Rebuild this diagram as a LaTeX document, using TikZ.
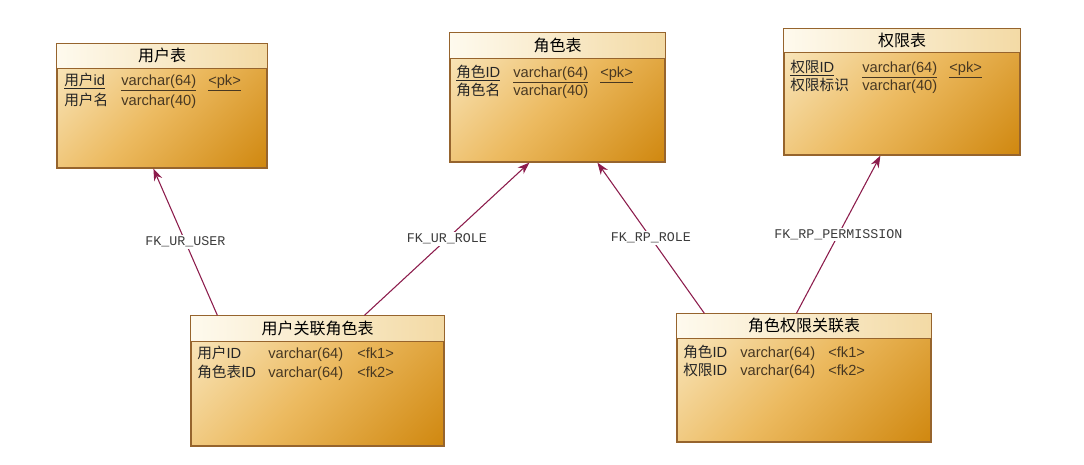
\documentclass[tikz,border=0pt]{standalone}
\usepackage{fontspec}
\setmainfont{Liberation Sans}
\newfontfamily\cjk{Noto Sans CJK SC}
\newfontfamily\monof{Liberation Mono}
\usetikzlibrary{calc,arrows.meta}
\definecolor{fkc}{RGB}{140,28,76}
\definecolor{brd}{RGB}{150,100,45}
\definecolor{bodylight}{RGB}{250,234,196}
\definecolor{bodymid}{RGB}{236,186,96}
\definecolor{bodydark}{RGB}{208,136,16}
\definecolor{hdrlight}{RGB}{254,250,238}
\definecolor{hdrdark}{RGB}{243,218,165}
\definecolor{typec}{RGB}{72,56,34}
\definecolor{lblc}{RGB}{60,60,60}
\pgfdeclareverticalshading{bodyshade}{100bp}{color(0bp)=(bodydark); color(15bp)=(bodydark); color(50bp)=(bodymid); color(85bp)=(bodylight); color(100bp)=(bodylight)}
\pgfdeclarehorizontalshading{hdrshade}{100bp}{color(0bp)=(hdrlight); color(25bp)=(hdrlight); color(75bp)=(hdrdark); color(100bp)=(hdrdark)}
\newcommand\tablebox[7]{%
  \node[tbl, minimum width=#4*0.75pt, minimum height=#5*0.75pt] (#1) at (#2,#3) {};
  \path[hdr] (#1.north west) rectangle ($(#1.north east)+(0,#6)$);
  \node[ttl] (#1-t) at ($(#1.north)+(0,#6/2)$) {#7};
}
\begin{document}
\begin{tikzpicture}[x=0.75pt,y=-0.75pt,
  tbl/.style={rectangle, draw=brd, line width=0.9pt, inner sep=0pt,
    shading=bodyshade, shading angle=45},
  hdr/.style={draw=brd, line width=0.9pt, shading=hdrshade},
  ttl/.style={inner sep=0pt, font=\cjk\fontsize{12}{14}\selectfont, text=black},
  cell/.style={anchor=base west, inner sep=0pt, font=\fontsize{11}{13}\selectfont, text=black!85},
  tcell/.style={cell, text=typec},
  fk/.style={draw=fkc, line width=0.8pt, -{Stealth[length=9pt,width=6.5pt]}},
  lbl/.style={fill=white, inner sep=1pt, text=lblc, font=\monof\fontsize{10}{12}\selectfont, pos=0.5}
]
\useasboundingbox[fill=white] (0,0) rectangle (1084,464);

% tables
\tablebox{u}{162}{106}{210}{124}{25}{用户表}
\tablebox{r}{557.5}{97.5}{215}{129}{26}{角色表}
\tablebox{p}{902}{92}{236}{126}{24}{权限表}
\tablebox{ur}{317.5}{381}{253}{130}{26}{用户关联角色表}
\tablebox{rp}{804}{378}{254}{128}{25}{角色权限关联表}

% rows: 用户表
\node[cell] (u-1n) at (64,85) {\underline{{\cjk 用户}id}};
\node[tcell] (u-1t) at (121,85) {\underline{varchar(64)}};
\node[tcell] (u-1k) at (208,85) {\underline{<pk>}};
\node[cell] (u-2n) at (64,105) {{\cjk 用户名}};
\node[tcell] (u-2t) at (121,105) {varchar(40)};

% rows: 角色表
\node[cell] (r-1n) at (456,77) {\underline{{\cjk 角色}ID}};
\node[tcell] (r-1t) at (513,77) {\underline{varchar(64)}};
\node[tcell] (r-1k) at (600,77) {\underline{<pk>}};
\node[cell] (r-2n) at (456,95) {{\cjk 角色名}};
\node[tcell] (r-2t) at (513,95) {varchar(40)};

% rows: 权限表
\node[cell] (p-1n) at (790,72) {\underline{{\cjk 权限}ID}};
\node[tcell] (p-1t) at (862,72) {\underline{varchar(64)}};
\node[tcell] (p-1k) at (949,72) {\underline{<pk>}};
\node[cell] (p-2n) at (790,90) {{\cjk 权限标识}};
\node[tcell] (p-2t) at (862,90) {varchar(40)};

% rows: 用户关联角色表
\node[cell] (ur-1n) at (197,358) {{\cjk 用户}ID};
\node[tcell] (ur-1t) at (268,358) {varchar(64)};
\node[tcell] (ur-1k) at (357,358) {<fk1>};
\node[cell] (ur-2n) at (197,377) {{\cjk 角色表}ID};
\node[tcell] (ur-2t) at (268,377) {varchar(64)};
\node[tcell] (ur-2k) at (357,377) {<fk2>};

% rows: 角色权限关联表
\node[cell] (rp-1n) at (683,357) {{\cjk 角色}ID};
\node[tcell] (rp-1t) at (740,357) {varchar(64)};
\node[tcell] (rp-1k) at (828,357) {<fk1>};
\node[cell] (rp-2n) at (683,375) {{\cjk 权限}ID};
\node[tcell] (rp-2t) at (740,375) {varchar(64)};
\node[tcell] (rp-2k) at (828,375) {<fk2>};

% connectors
\draw[fk] ($(ur.north west)+(27,0)$) -- node[lbl] (l1) {FK\_UR\_USER} ($(u.south west)+(97,0)$);
\draw[fk] ($(ur.north west)+(174,0)$) -- node[lbl] (l2) {FK\_UR\_ROLE} ($(r.south west)+(80,0)$);
\draw[fk] ($(rp.north west)+(28,0)$) -- node[lbl] (l3) {FK\_RP\_ROLE} ($(r.south west)+(148,0)$);
\draw[fk] ($(rp.north west)+(120,0)$) -- node[lbl] (l4) {FK\_RP\_PERMISSION} ($(p.south west)+(97,0)$);
\end{tikzpicture}
\end{document}
